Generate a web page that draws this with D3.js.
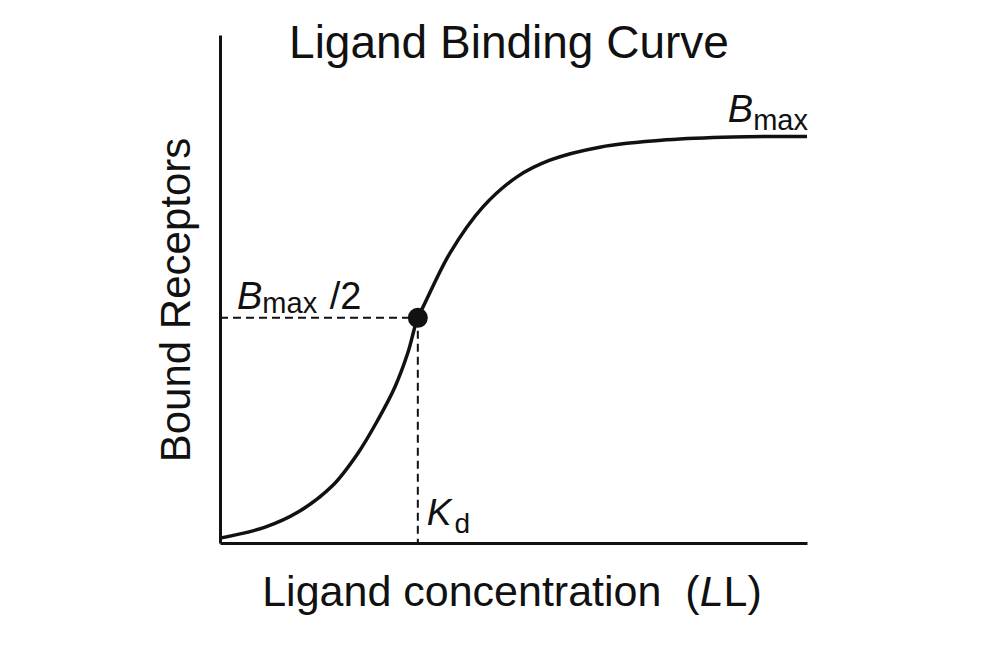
<!DOCTYPE html>
<html lang="en">
<head>
  <meta charset="UTF-8">
  <title>Ligand Binding Curve</title>
  <script src="https://d3js.org/d3.v7.min.js"></script>
  <style>
    body {
      margin: 0;
      padding: 0;
      background-color: #ffffff;
    }
    text {
      font-family: "Liberation Sans", Arial, Helvetica, sans-serif;
      fill: #111;
    }
    .axis path {
      stroke: #111;
      stroke-width: 3px;
    }
    .curve {
      fill: none;
      stroke: #111;
      stroke-width: 3.5px;
    }
    .guide {
      stroke: #111;
      stroke-width: 2px;
      stroke-dasharray: 8 5;
    }
  </style>
</head>
<body>
  <div id="chart"></div>

  <script>
    // Curve (concentration, fraction of Bmax)
    const conc  = [0, 0.77, 1.33, 1.91, 2.35, 2.69, 2.98, 3.20, 3.37, 3.46, 3.92, 4.48, 5.06, 5.62, 6.47, 7.61, 8.74, 10];
    const bound = [0.012, 0.039, 0.076, 0.140, 0.221, 0.303, 0.384, 0.468, 0.556, 0.581, 0.714, 0.827, 0.901, 0.942, 0.974, 0.992, 0.999, 1.0];

    // Half-saturation point
    const kd = [3.37];
    const halfB = [0.554];

    const width = 1000;
    const height = 667;
    const margin = { top: 35, right: 193, bottom: 124, left: 220 };

    const svg = d3.select('#chart')
      .append('svg')
      .attr('width', width)
      .attr('height', height);

    const x = d3.scaleLinear()
      .domain([0, 10])
      .range([margin.left, width - margin.right]);

    const y = d3.scaleLinear()
      .domain([0, 1.25])
      .range([height - margin.bottom, margin.top]);

    // Axes without ticks
    svg.append('g')
      .attr('class', 'axis')
      .attr('transform', `translate(0,${y(0)})`)
      .call(d3.axisBottom(x).ticks(0).tickSizeOuter(0));

    svg.append('g')
      .attr('class', 'axis')
      .attr('transform', `translate(${x(0)},0)`)
      .call(d3.axisLeft(y).ticks(0).tickSizeOuter(0));

    // Dashed guides to the half point
    svg.append('line')
      .attr('class', 'guide')
      .attr('x1', x(0)).attr('y1', y(halfB[0]))
      .attr('x2', x(kd[0])).attr('y2', y(halfB[0]));

    svg.append('line')
      .attr('class', 'guide')
      .attr('x1', x(kd[0])).attr('y1', y(halfB[0]))
      .attr('x2', x(kd[0])).attr('y2', y(0));

    // Binding curve
    const line = d3.line()
      .x((d, i) => x(conc[i]))
      .y(d => y(d))
      .curve(d3.curveCatmullRom.alpha(0.5));

    svg.append('path')
      .attr('class', 'curve')
      .attr('d', line(bound));

    svg.append('circle')
      .attr('cx', x(kd[0]))
      .attr('cy', y(halfB[0]))
      .attr('r', 10)
      .attr('fill', '#111');

    // Title
    svg.append('text')
      .attr('x', 509)
      .attr('y', 58)
      .attr('text-anchor', 'middle')
      .style('font-size', '46px')
      .text('Ligand Binding Curve');

    // Axis labels
    svg.append('text')
      .attr('x', 512)
      .attr('y', 606)
      .attr('text-anchor', 'middle')
      .style('font-size', '43px')
      .style('white-space', 'pre')
      .html('Ligand concentration  (<tspan font-style="italic">L</tspan>L)');

    svg.append('text')
      .attr('transform', 'translate(190,300) rotate(-90)')
      .attr('text-anchor', 'middle')
      .style('font-size', '42px')
      .text('Bound Receptors');

    // Bmax label
    const bmax = svg.append('text')
      .attr('x', x(10) + 1)
      .attr('y', y(1) - 15)
      .attr('text-anchor', 'end')
      .style('font-size', '38px');
    bmax.append('tspan').attr('font-style', 'italic').text('B');
    bmax.append('tspan').attr('dy', 8).style('font-size', '29px').text('max');

    // Bmax / 2 label
    const half = svg.append('text')
      .attr('x', 237)
      .attr('y', y(halfB[0]) - 9)
      .style('font-size', '38px')
      .style('white-space', 'pre');
    half.append('tspan').attr('font-style', 'italic').text('B');
    half.append('tspan').attr('dy', 4).style('font-size', '29px').text('max');
    half.append('tspan').attr('dy', -4).attr('dx', 2).text(' /2');

    // Kd label
    const kdLabel = svg.append('text')
      .attr('x', x(kd[0]) + 9)
      .attr('y', y(0) - 18)
      .style('font-size', '37px');
    kdLabel.append('tspan').attr('font-style', 'italic').text('K');
    kdLabel.append('tspan').attr('dx', 3).attr('dy', 8).style('font-size', '28px').text('d');
  </script>
</body>
</html>
